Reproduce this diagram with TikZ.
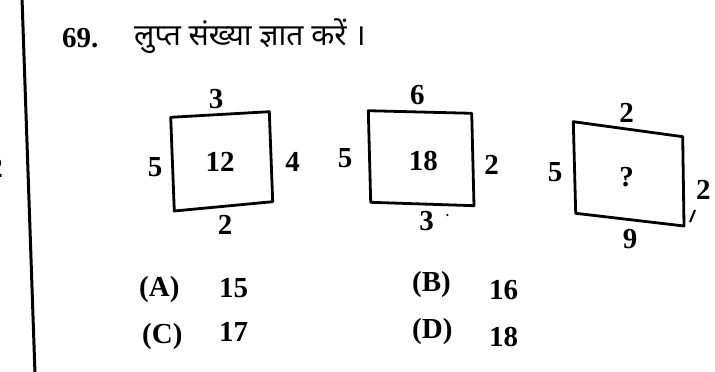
\documentclass[tikz,border=0pt]{standalone}
\usepackage{fontspec}
\setmainfont{Liberation Serif}
\newfontfamily\devfont[Script=Devanagari]{Noto Sans}
\begin{document}
\begin{tikzpicture}[x=1pt,y=-1pt,
  lbl/.style={inner sep=0pt,font=\bfseries\fontsize{29}{34}\selectfont},
  opt/.style={inner sep=0pt,font=\bfseries\fontsize{29}{34}\selectfont},
  boxline/.style={line width=2.8pt,line join=round}]
\useasboundingbox (0,0) rectangle (715,372);
% left margin rule
\coordinate (lt) at (22,-2);
\coordinate (lb) at (35,374);
\draw[line width=3pt] (lt) -- (lb);
\node[lbl,anchor=east] (frag) at (3,168) {2};
% title
\node[inner sep=0pt,font=\bfseries\fontsize{29}{32}\selectfont,anchor=west] (qn) at (62,38) {69.};
\node[inner sep=0pt,font=\devfont\bfseries\fontsize{30}{34}\selectfont,anchor=west] (qt) at (134,36) {लुप्त संख्या ज्ञात करें ।};
% box 1
\coordinate (a1) at (170.7,117.3);
\coordinate (a2) at (269.3,111.7);
\coordinate (a3) at (272.7,201.7);
\coordinate (a4) at (174.3,211);
\draw[boxline] (a1) -- (a2) -- (a3) -- (a4) -- cycle;
\node[lbl] (a-top) at (216,99) {3};
\node[lbl] (a-left) at (155,167) {5};
\node[lbl] (a-mid) at (220,162) {12};
\node[lbl] (a-right) at (292.7,162) {4};
\node[lbl] (a-bot) at (225,225) {2};
% box 2
\coordinate (b1) at (368.3,110.7);
\coordinate (b2) at (471.7,113.3);
\coordinate (b3) at (474,205.7);
\coordinate (b4) at (370.7,202.3);
\draw[boxline] (b1) -- (b2) -- (b3) -- (b4) -- cycle;
\node[lbl] (b-top) at (417.3,95) {6};
\node[lbl] (b-left) at (345,158) {5};
\node[lbl] (b-mid) at (423.3,161) {18};
\node[lbl] (b-right) at (491.7,165) {2};
\node[lbl] (b-bot) at (426.7,220.7) {3};
\fill (447.3,215) circle (1.3);
% box 3
\coordinate (c1) at (573.3,121.7);
\coordinate (c2) at (682.7,136.7);
\coordinate (c3) at (684,226);
\coordinate (c4) at (575.7,213.3);
\draw[boxline] (c1) -- (c2) -- (c3) -- (c4) -- cycle;
\node[lbl] (c-top) at (626.7,113.3) {2};
\node[lbl] (c-left) at (555,171.7) {5};
\node[lbl] (c-mid) at (626.7,176.7) {?};
\node[lbl] (c-right) at (703.3,189.7) {2};
\node[lbl] (c-bot) at (630,239.3) {9};
\draw[line width=2pt] (690,222) -- (695,210);
% options
\node[opt,anchor=west] (oA) at (139,290) {(A)};
\node[opt,anchor=west] (vA) at (219,288) {15};
\node[opt,anchor=west] (oB) at (412,285) {(B)};
\node[opt,anchor=west] (vB) at (489,290) {16};
\node[opt,anchor=west] (oC) at (142,337) {(C)};
\node[opt,anchor=west] (vC) at (219,332) {17};
\node[opt,anchor=west] (oD) at (412,332) {(D)};
\node[opt,anchor=west] (vD) at (489,337) {18};
\end{tikzpicture}
\end{document}
